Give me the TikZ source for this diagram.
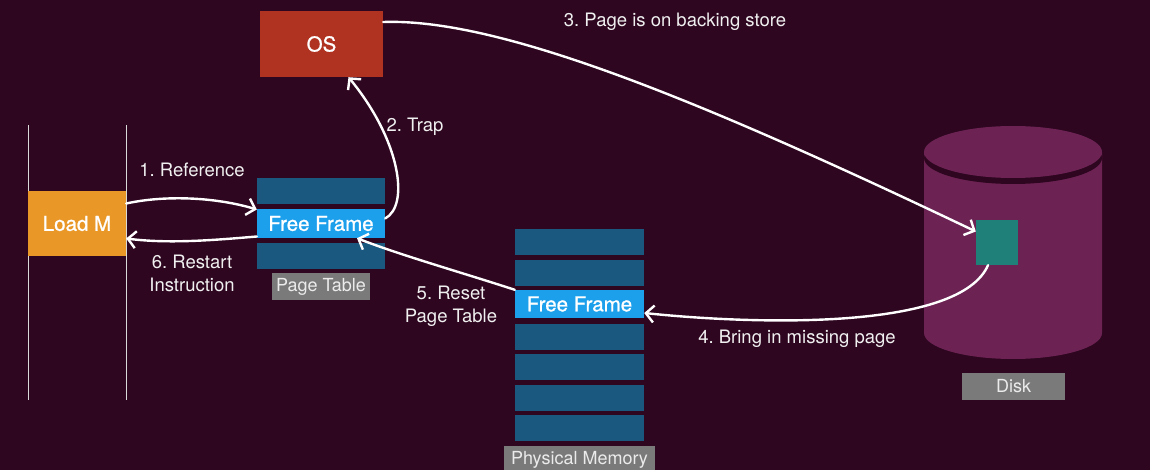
\documentclass[tikz,border=0pt]{standalone}
\usepackage{fontspec}
\setmainfont{TeX Gyre Heros}
\newfontface\boxfont{TeX Gyre Heros}[FakeBold=1]
\usetikzlibrary{arrows.meta}
\frenchspacing
\definecolor{bgmaroon}{RGB}{46,6,32}
\definecolor{loadorange}{RGB}{233,152,40}
\definecolor{osred}{RGB}{176,50,32}
\definecolor{rowblue}{RGB}{27,88,128}
\definecolor{freeblue}{RGB}{29,160,236}
\definecolor{taggray}{RGB}{122,122,122}
\definecolor{diskpurple}{RGB}{108,35,84}
\definecolor{pageteal}{RGB}{30,128,120}

\begin{document}
\begin{tikzpicture}[x=1pt, y=-1pt,
		box/.style={inner sep=0pt, text=white, font=\boxfont\fontsize{20.5}{24}\selectfont},
		tag/.style={fill=taggray, inner sep=0pt, text=white!92!black, font=\fontsize{18}{21}\selectfont},
		lbl/.style={text=white!94!black, align=center, font=\fontsize{18.5}{23}\selectfont},
		arr/.style={white, line width=2.4pt, line cap=round, -{Straight Barb[length=8pt,width=17pt]}}]
		%%%%% START %%%%%
		\useasboundingbox (0, 0) rectangle (1150, 470);
		\fill[bgmaroon] (0, 0) rectangle (1150, 470);
		
		% process
		\draw[white!85!black, line width=0.8pt] (28, 125) -- (28, 400);
		\draw[white!85!black, line width=0.8pt] (126, 125) -- (126, 400);
		\node[box, fill=loadorange, minimum width=98pt, minimum height=65pt] (load) at (77, 223.5) {Load M};
		
		% page table
		\fill[rowblue] (257, 178) rectangle (385, 204);
		\node[box, fill=freeblue, minimum width=128pt, minimum height=29pt] (ptff) at (321, 223.5) {Free Frame};
		\fill[rowblue] (257, 243) rectangle (385, 269);
		\node[tag, minimum width=98pt, minimum height=27pt] (pttag) at (321, 286.5) {Page Table};
		
		\node[box, fill=osred, minimum width=123pt, minimum height=66pt] (os) at (321.5, 44) {OS};
		
		% physical memory
		\fill[rowblue] (515, 229) rectangle (644, 255);
		\fill[rowblue] (515, 260) rectangle (644, 286);
		\node[box, fill=freeblue, minimum width=129pt, minimum height=28pt] (pmff) at (579.5, 304) {Free Frame};
		\fill[rowblue] (515, 324) rectangle (644, 350);
		\fill[rowblue] (515, 354) rectangle (644, 380);
		\fill[rowblue] (515, 385) rectangle (644, 411);
		\fill[rowblue] (515, 415) rectangle (644, 441);
		\node[tag, minimum width=151pt, minimum height=28pt] (pmtag) at (579.5, 460) {Physical Memory};
		
		% disk
		\fill[diskpurple] (924, 152) -- (924, 333) arc[start angle=180, end angle=0, x radius=89, y radius=26] -- (1102, 152) -- cycle;
		\fill[bgmaroon] (1013, 158) ellipse[x radius=89, y radius=26];
		\fill[diskpurple] (1013, 152) ellipse[x radius=89, y radius=26];
		\node[fill=pageteal, inner sep=0pt, minimum width=42pt, minimum height=45pt] (page) at (997, 242.5) {};
		\node[tag, minimum width=103pt, minimum height=27pt] (disktag) at (1013.5, 386.5) {Disk};
		
		% steps
		\draw[arr] ([yshift=20pt]load.east) .. controls (165, 195) and (215, 197) .. ([yshift=14pt]ptff.west);
		\node[lbl] (l1) at (192, 170) {1. Reference};
		\draw[arr] ([yshift=5pt]ptff.east) .. controls (410, 205) and (400, 140) .. ([xshift=27pt]os.south);
		\node[lbl] (l2) at (415, 127) {2. Trap};
		\draw[arr] ([yshift=22pt]os.east) .. controls (500, 18) and (700, 100) .. ([yshift=11pt]page.west);
		\node[lbl] (l3) at (675, 22) {3. Page is on backing store};
		\draw[arr] ([xshift=-9pt]page.south) .. controls (960, 330) and (760, 325) .. ([yshift=-9pt]pmff.east);
		\node[lbl] (l4) at (797, 339) {4. Bring in missing page};
		\draw[arr] (pmff.north west) .. controls (460, 272) and (400, 255) .. ([xshift=36pt]ptff.south);
		\node[lbl] (l5) at (451, 306) {5. Reset\\Page Table};
		\draw[arr] ([yshift=-13pt]ptff.west) .. controls (215, 240) and (170, 244) .. ([yshift=-15pt]load.east);
		\node[lbl] (l6) at (192, 273) {6. Restart\\Instruction};
		%%%%% END %%%%%
	\end{tikzpicture}
\end{document}
